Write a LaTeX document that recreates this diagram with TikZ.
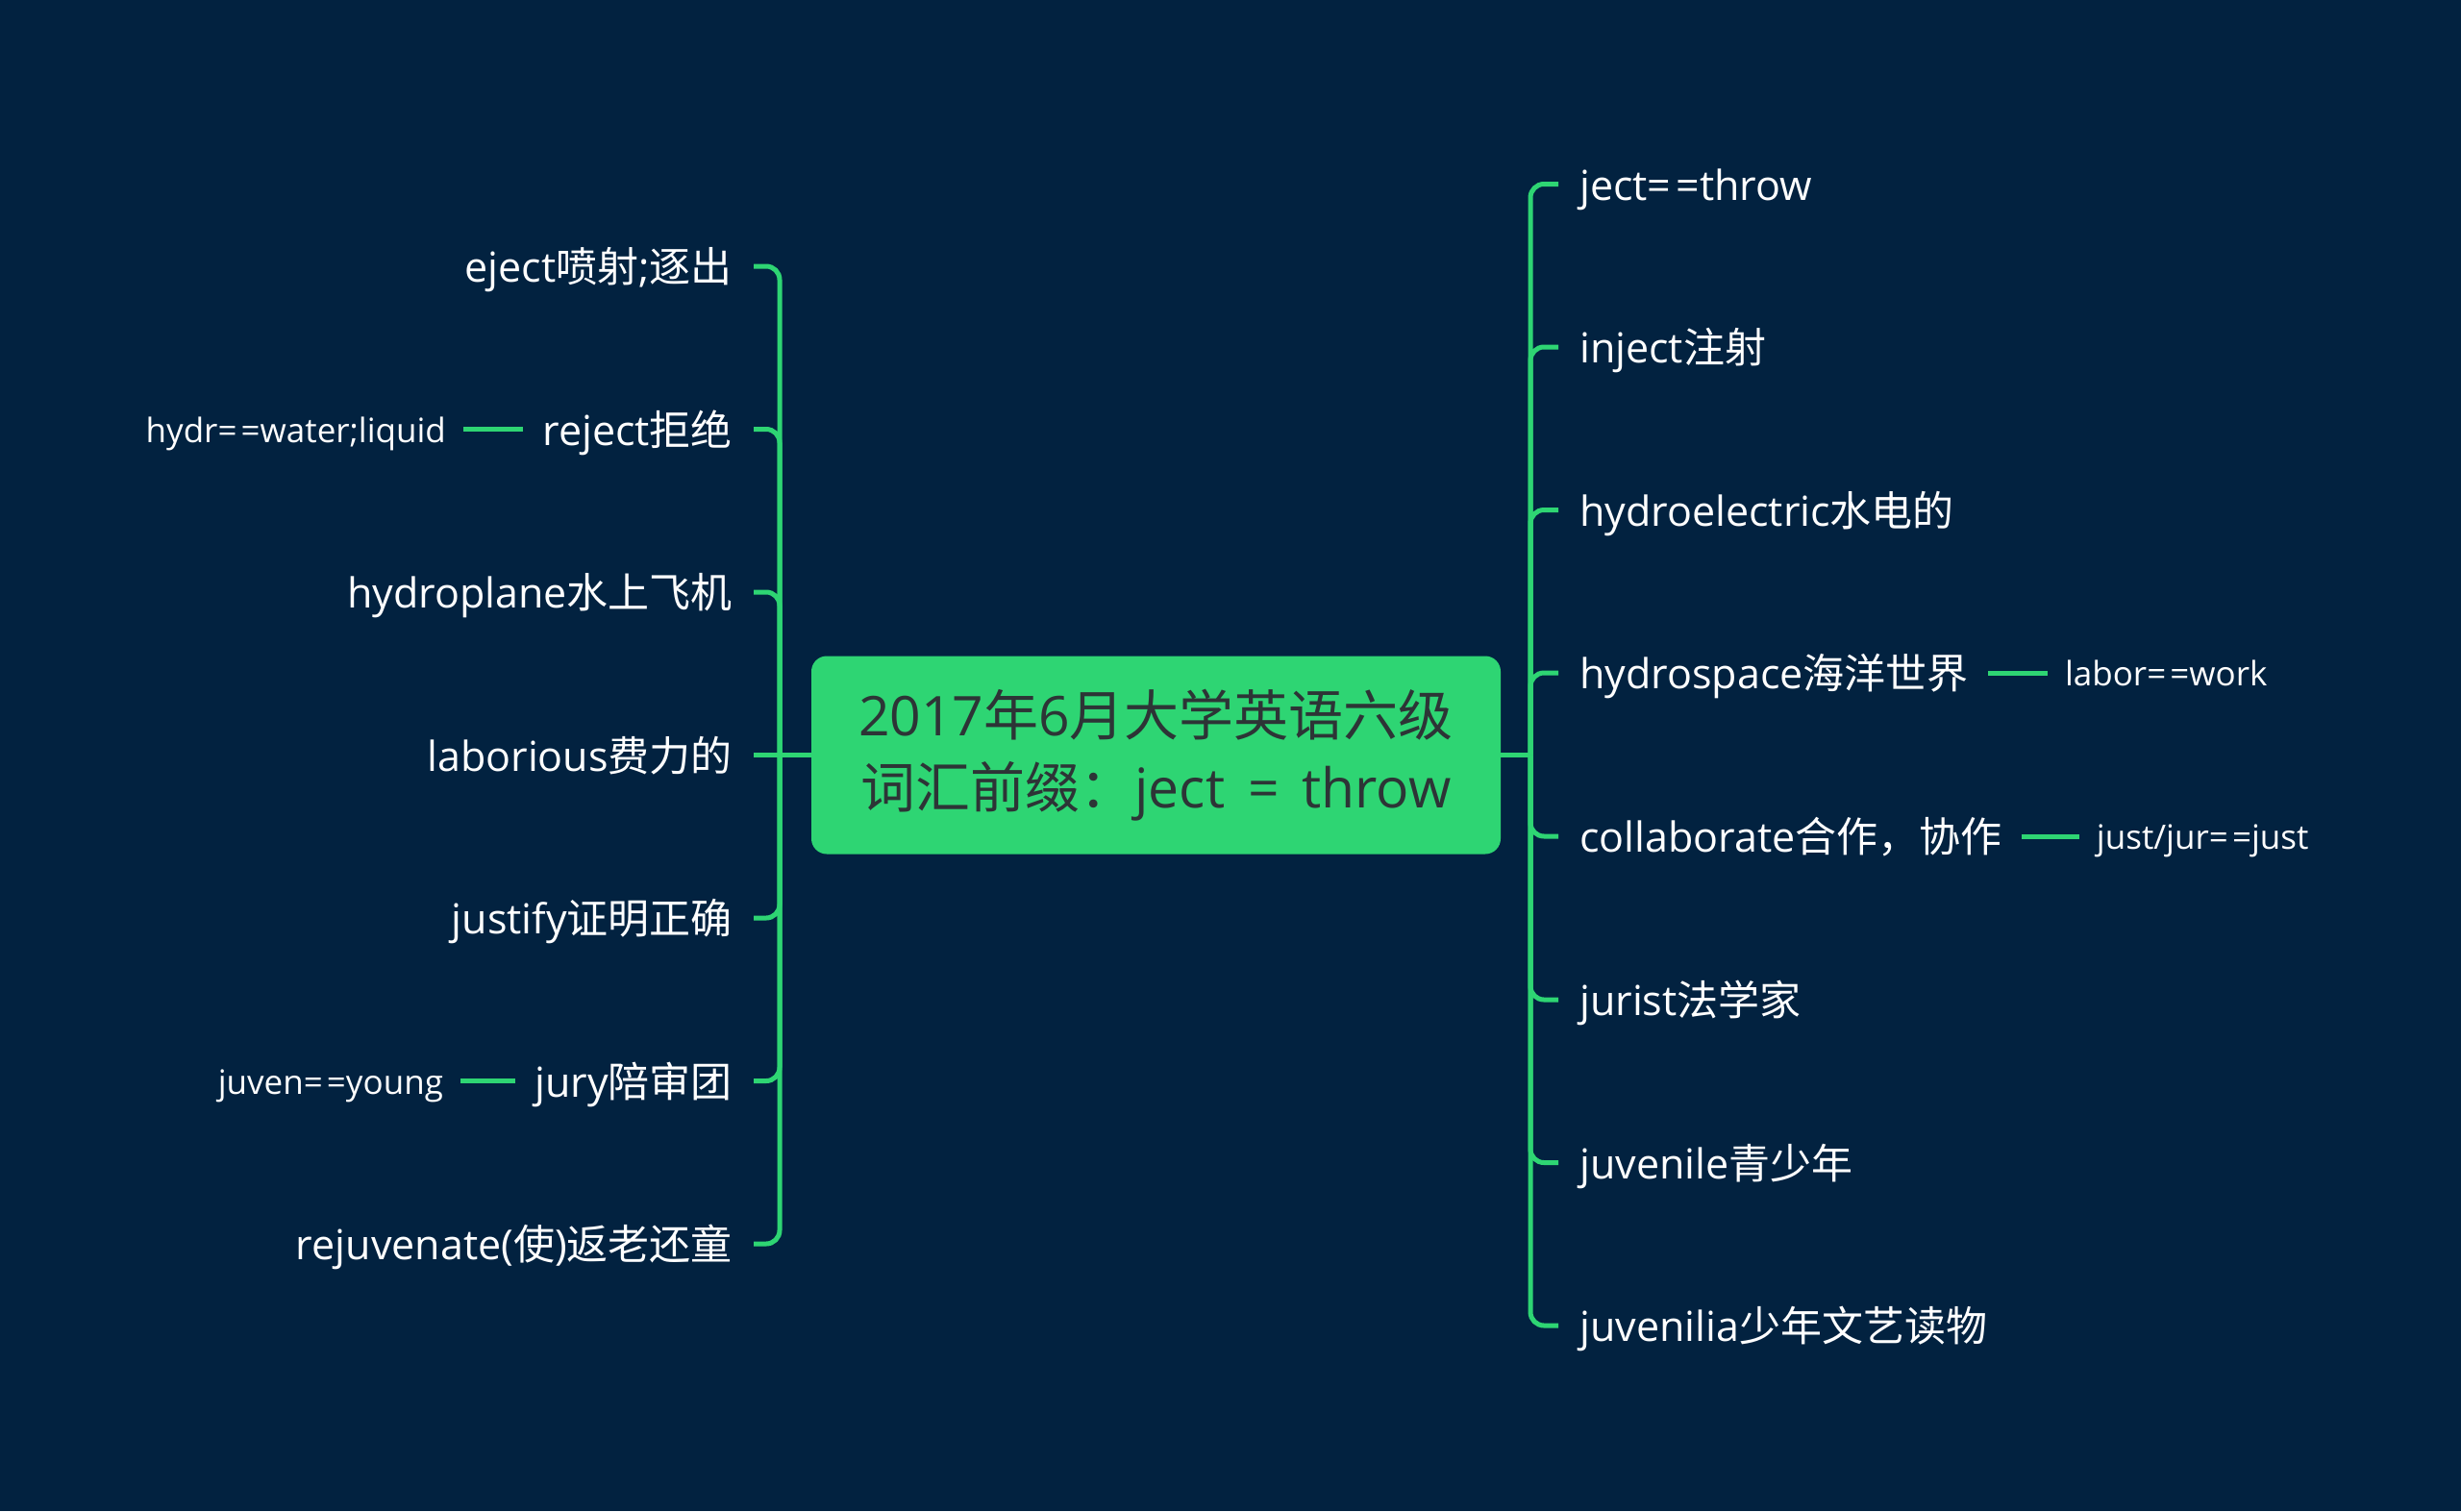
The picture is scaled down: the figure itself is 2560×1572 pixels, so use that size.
\documentclass[tikz,border=0pt]{standalone}
\usepackage{fontspec}
\setmainfont{Open Sans}
\newfontfamily\cjk{Noto Sans CJK SC}
\newcommand\zh[1]{{\cjk #1}}
\newcommand\eqeq{=\hspace{0.12em}=}
\definecolor{bg}{RGB}{2,34,64}
\definecolor{gr}{RGB}{46,213,115}
\definecolor{rt}{RGB}{45,52,54}
\tikzset{
  lvl/.style={text=white, inner sep=0pt, text height=38pt, text depth=5pt, font=\fontsize{43}{50}\selectfont},
  subnode/.style={text=white, inner sep=0pt, text height=31pt, text depth=4pt, font=\fontsize{35}{42}\selectfont},
  conn/.style={draw=gr, line width=5pt, rounded corners=14pt},
  rootbox/.style={fill=gr, rounded corners=16pt, minimum width=717pt, minimum height=206pt,
    align=center, text=rt, inner sep=0pt, font=\fontsize{57}{75}\selectfont},
}
\begin{document}
\begin{tikzpicture}[x=1pt,y=-1pt]
\fill[bg] (0,0) rectangle (2560,1572);
\useasboundingbox (0,0) rectangle (2560,1572);

\node[rootbox] (root) at (1202.5,785.5) {2017\zh{年}6\zh{月大学英语六级}\\\zh{词汇前缀：}ject\hspace{0.42em}=\hspace{0.42em}throw};
\coordinate (lj) at (811,785.5);
\coordinate (rj) at (1592,785.5);

% left children
\node[lvl, anchor=east] (L1) at (762,277)  {eject\zh{喷射};\zh{逐出}};
\node[lvl, anchor=east] (L2) at (762,446.5) {reject\zh{拒绝}};
\node[lvl, anchor=east] (L3) at (762,616)  {hydroplane\zh{水上飞机}};
\node[lvl, anchor=east] (L4) at (762,785.5) {laborious\zh{费力的}};
\node[lvl, anchor=east] (L5) at (762,955)  {justify\zh{证明正确}};
\node[lvl, anchor=east] (L6) at (762,1124.5) {jury\zh{陪审团}};
\node[lvl, anchor=east] (L7) at (762,1294) {rejuvenate(\zh{使})\zh{返老还童}};

% right children
\node[lvl, anchor=west] (R1) at (1643,191.5) {ject\eqeq throw};
\node[lvl, anchor=west] (R2) at (1643,361)  {inject\zh{注射}};
\node[lvl, anchor=west] (R3) at (1643,530.5) {hydroelectric\zh{水电的}};
\node[lvl, anchor=west] (R4) at (1643,700)  {hydrospace\zh{海洋世界}};
\node[lvl, anchor=west] (R5) at (1643,870)  {collaborate\zh{合作，协作}};
\node[lvl, anchor=west] (R6) at (1643,1040) {jurist\zh{法学家}};
\node[lvl, anchor=west] (R7) at (1643,1209.5) {juvenile\zh{青少年}};
\node[lvl, anchor=west] (R8) at (1643,1379) {juvenilia\zh{少年文艺读物}};

% sub nodes
\node[subnode, anchor=east] (S1) at ([xshift=-100pt]L2.west) {hydr\eqeq water;liquid};
\node[subnode, anchor=east] (S2) at ([xshift=-95pt]L6.west) {juven\eqeq young};
\node[subnode, anchor=west] (S3) at ([xshift=100pt]R4.east) {labor\eqeq work};
\node[subnode, anchor=west] (S4) at ([xshift=98pt]R5.east) {just/jur\eqeq just};

% connectors left
\draw[conn] (root.west) -- ([xshift=22pt]L4.east);
\foreach \n in {L1,L2,L3,L5,L6,L7}
  \draw[conn] (lj) |- ([xshift=22pt]\n.east);
% connectors right
\draw[conn] (root.east) -- (rj);
\foreach \n in {R1,R2,R3,R4,R5,R6,R7,R8}
  \draw[conn] (rj) |- ([xshift=-22pt]\n.west);

% sub connectors
\draw[conn] ([xshift=-20pt]L2.west) -- ([xshift=18pt]S1.east);
\draw[conn] ([xshift=-20pt]L6.west) -- ([xshift=18pt]S2.east);
\draw[conn] ([xshift=20pt]R4.east) -- ([xshift=-18pt]S3.west);
\draw[conn] ([xshift=20pt]R5.east) -- ([xshift=-18pt]S4.west);
\end{tikzpicture}
\end{document}
